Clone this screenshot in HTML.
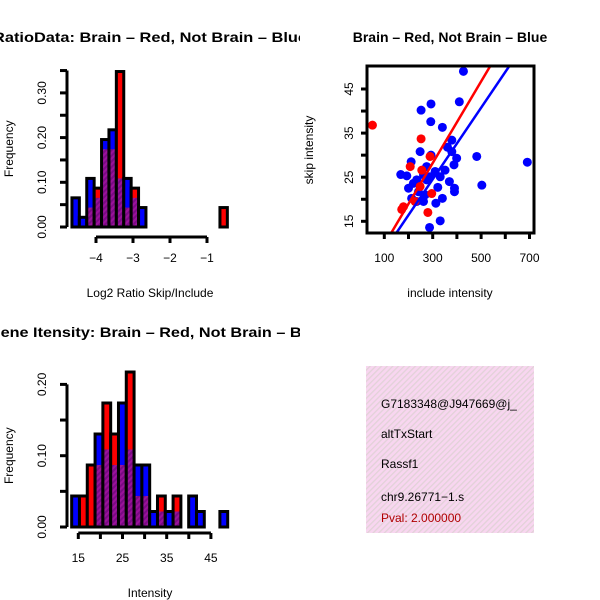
<!DOCTYPE html>
<html><head><meta charset="utf-8"><style>
html,body{margin:0;padding:0;background:#fff;}
svg{display:block;font-family:"Liberation Sans",Arial,sans-serif;}
</style></head><body>
<svg id="fig" width="600" height="600" viewBox="0 0 600 600" xmlns="http://www.w3.org/2000/svg">
<defs>
<clipPath id="cTL"><rect x="0" y="0" width="300" height="300"/></clipPath>
<clipPath id="cTR"><rect x="300" y="0" width="300" height="300"/></clipPath>
<clipPath id="cBL"><rect x="0" y="300" width="300" height="300"/></clipPath>
<clipPath id="cPlot"><rect x="367" y="66" width="167" height="167"/></clipPath>
<pattern id="purp" width="4" height="4" patternUnits="userSpaceOnUse" patternTransform="rotate(45)">
<rect width="4" height="4" fill="#9a129a"/><rect width="2" height="4" fill="#7a0a84"/></pattern>
<pattern id="pink" width="4" height="4" patternUnits="userSpaceOnUse" patternTransform="rotate(45)">
<rect width="4" height="4" fill="#f8d6f0"/><rect width="1.3" height="4" fill="#e2d2d8"/></pattern>
</defs>
<g id="tl" clip-path="url(#cTL)"></g>
<g id="tr" clip-path="url(#cTR)"></g>
<g id="bl" clip-path="url(#cBL)"></g>
<g>
<rect x="366" y="366" width="168" height="167" fill="url(#pink)"/>
<text x="381" y="408" font-size="12">G7183348@J947669@j_</text>
<text x="381" y="438" font-size="12">altTxStart</text>
<text x="381" y="468" font-size="12">Rassf1</text>
<text x="381" y="501" font-size="12">chr9.26771−1.s</text>
<text x="381" y="522" font-size="12" fill="#b00000">Pval: 2.000000</text>
</g>
</svg>
<script>
// ---- Ratio histogram data ----
const ratioBreakStart = -4.65;
const ratioBinWidth = 0.2;
const ratioBlueFreq = [3,1,5,3,9,10,5,5,3,2,0,0,0,0,0,0,0,0,0,0,0].map(c=>c/46);
const ratioRedFreq  = [0,0,1,2,4,4,8,1,2,0,0,0,0,0,0,0,0,0,0,0,1].map(c=>c/23);
const ratioXTicks = [-4,-3,-2,-1];
const ratioYTicks = [0,0.05,0.1,0.15,0.2,0.25,0.3,0.35];
const ratioYLabels = ["0.00","","0.10","","0.20","","0.30",""];
// ---- Intensity histogram data ----
const intBreakStart = 13.5;
const intBinWidth = 1.765;
const intBlueFreq = [2,0,0,6,5,4,8,5,4,4,1,1,1,1,0,2,1,0,0,1].map(c=>c/46);
const intRedFreq  = [0,1,2,2,4,3,2,5,1,1,0,1,0,1,0,0,0,0,0,0].map(c=>c/23);
const intXTicks = [15,20,25,30,35,40,45];
const intXLabels = ["15","","25","","35","","45"];
const intYTicks = [0,0.05,0.1,0.15,0.2];
const intYLabels = ["0.00","","0.10","","0.20"];
// ---- Scatter data ----
const blueInclude = [427,410,293,252,292,340,379,361,248,379,399,482,691,211,293,388,351,310,168,193,331,369,503,275,220,200,321,390,390,241,269,213,340,262,313,234,331,287,289,262,234,275];
const blueSkip    = [49.0,42.1,41.6,40.2,37.6,36.3,33.4,31.8,30.8,30.8,29.3,29.7,28.4,28.5,30.0,27.8,26.6,26.3,25.6,25.3,25.1,24.0,23.2,24.4,23.6,22.5,22.7,22.5,21.7,21.7,21.0,20.2,20.2,19.5,19.1,19.5,15.1,13.6,25.1,25.5,24.4,27.4];
const redInclude = [51,252,280,179,172,289,207,255,296,248,227];
const redSkip    = [36.8,33.7,17.0,18.3,17.7,29.7,27.4,26.6,21.3,22.9,19.5];
const redFit = [0.46,0.0925];
const blueFit = [0.2,0.0811];
const scXTicks = [100,200,300,400,500,600,700];
const scXLabels = ["100","","300","","500","","700"];
const scYTicks = [15,20,25,30,35,40,45];
const scYLabels = ["15","","25","","35","","45"];

const NS="http://www.w3.org/2000/svg";
function mk(parent,tag,attrs,text){const e=document.createElementNS(NS,tag);for(const k in attrs)e.setAttribute(k,attrs[k]);if(text!==undefined)e.textContent=text;parent.appendChild(e);return e;}

function histogram(g,start,w,blue,red,sx,sy,xTicks,xLabels,yTicks,yLabels,axY,yAxisX,xlabel,xlabelY,title,titleX,titleLen,titleY,tickLabelY){
  for(let i=0;i<blue.length;i++){
    const x0=sx(start+i*w),x1=sx(start+(i+1)*w);
    const hi=Math.max(blue[i],red[i]),lo=Math.min(blue[i],red[i]);
    if(hi<=0)continue;
    const col=red[i]>blue[i]?"#ff0000":"#0000ff";
    const r=mk(g,"rect",{x:x0,y:sy(hi),width:x1-x0,height:sy(0)-sy(hi),fill:col});
    
    
    if(lo>0){const p=mk(g,"rect",{x:x0,y:sy(lo),width:x1-x0,height:sy(0)-sy(lo),fill:"url(#purp)"});
      
      }
    const o=mk(g,"rect",{x:x0,y:sy(hi),width:x1-x0,height:sy(0)-sy(hi),fill:"none",stroke:"#000","stroke-width":3});
    
    
  }
  const xa=mk(g,"g",{});
  
  
  mk(xa,"line",{x1:sx(xTicks[0]),x2:sx(xTicks[xTicks.length-1]),y1:axY,y2:axY,stroke:"#000","stroke-width":3});
  xTicks.forEach((t,i)=>{mk(xa,"line",{x1:sx(t),x2:sx(t),y1:axY,y2:axY+6,stroke:"#000","stroke-width":3});
    if(xLabels[i]){const l=mk(xa,"text",{x:sx(t),y:tickLabelY,"font-size":12,"text-anchor":"middle"},xLabels[i]);
    
    }});
  const ya=mk(g,"g",{});
  
  
  mk(ya,"line",{x1:yAxisX,x2:yAxisX,y1:sy(yTicks[0]),y2:sy(yTicks[yTicks.length-1]),stroke:"#000","stroke-width":3});
  yTicks.forEach((t,i)=>{mk(ya,"line",{x1:yAxisX-7,x2:yAxisX,y1:sy(t),y2:sy(t),stroke:"#000","stroke-width":3});
    if(yLabels[i]){const l=mk(ya,"text",{x:0,y:0,"font-size":12,"text-anchor":"middle",transform:`translate(${yAxisX-21},${sy(t)}) rotate(-90)`},yLabels[i]);
    
    }});
  const xl=mk(g,"text",{x:150,y:xlabelY,"font-size":12,"text-anchor":"middle"},xlabel);
  
  
  const mid=(sy(yTicks[0])+sy(yTicks[yTicks.length-1]))/2;
  const yl=mk(g,"text",{x:0,y:0,"font-size":12,"text-anchor":"middle",transform:`translate(13,${mid}) rotate(-90)`},"Frequency");
  
  
  const tt=mk(g,"text",{x:titleX,y:titleY,"font-size":14,"font-weight":"bold",textLength:titleLen,lengthAdjust:"spacingAndGlyphs"},title);
  
  
}

histogram(document.getElementById('tl'),ratioBreakStart,ratioBinWidth,ratioBlueFreq,ratioRedFreq,
  v=>96+(v+4)*37, f=>227-f*447, ratioXTicks,["−4","−3","−2","−1"],ratioYTicks,ratioYLabels,
  237,67,"Log2 Ratio Skip/Include",297,"RatioData: Brain – Red, Not Brain – Blue",-7,314,42,262);

histogram(document.getElementById('bl'),intBreakStart,intBinWidth,intBlueFreq,intRedFreq,
  v=>78.3+(v-15)*4.42, f=>527-f*713, intXTicks,intXLabels,intYTicks,intYLabels,
  533,67,"Intensity",597,"Gene Itensity: Brain – Red, Not Brain – Blue",-12,337,337,562);

(function(){
  const g=document.getElementById('tr');
  const sx=x=>360.1+x*0.242, sy=y=>221.3-(y-15)*4.41;
  const pts=mk(g,"g",{"clip-path":"url(#cPlot)"});
  blueInclude.forEach((x,i)=>{const c=mk(pts,"circle",{cx:sx(x),cy:sy(blueSkip[i]),r:4.5,fill:"#0000ff"});
    
    });
  redInclude.forEach((x,i)=>{const c=mk(pts,"circle",{cx:sx(x),cy:sy(redSkip[i]),r:4.5,fill:"#ff0000"});
    
    });
  [[redFit,"#ff0000","fit-line-red"],[blueFit,"#0000ff","fit-line-blue"]].forEach(([f,c,n])=>{
    const x0=0,x1=800;
    const l=mk(pts,"line",{x1:sx(x0),y1:sy(f[0]+f[1]*x0),x2:sx(x1),y2:sy(f[0]+f[1]*x1),stroke:c,"stroke-width":2.5});
    
    });
  mk(g,"rect",{x:367,y:66,width:167,height:167,fill:"none",stroke:"#000","stroke-width":3});
  scXTicks.forEach((t,i)=>{mk(g,"line",{x1:sx(t),x2:sx(t),y1:233,y2:239,stroke:"#000","stroke-width":3});
    if(scXLabels[i]){const l=mk(g,"text",{x:sx(t),y:262,"font-size":12,"text-anchor":"middle"},scXLabels[i]);
    
    }});
  scYTicks.forEach((t,i)=>{mk(g,"line",{x1:361,x2:367,y1:sy(t),y2:sy(t),stroke:"#000","stroke-width":3});
    if(scYLabels[i]){const l=mk(g,"text",{x:0,y:0,"font-size":12,"text-anchor":"middle",transform:`translate(353,${sy(t)}) rotate(-90)`},scYLabels[i]);
    
    }});
  const xl=mk(g,"text",{x:450,y:297,"font-size":12,"text-anchor":"middle"},"include intensity");
  
  
  const yl=mk(g,"text",{x:0,y:0,"font-size":12,"text-anchor":"middle",transform:"translate(313,150) rotate(-90)"},"skip intensity");
  
  
  const t=mk(g,"text",{x:450,y:42,"font-size":14,"font-weight":"bold","text-anchor":"middle"},"Brain – Red, Not Brain – Blue");
  
  
})();
</script>
</body></html>
